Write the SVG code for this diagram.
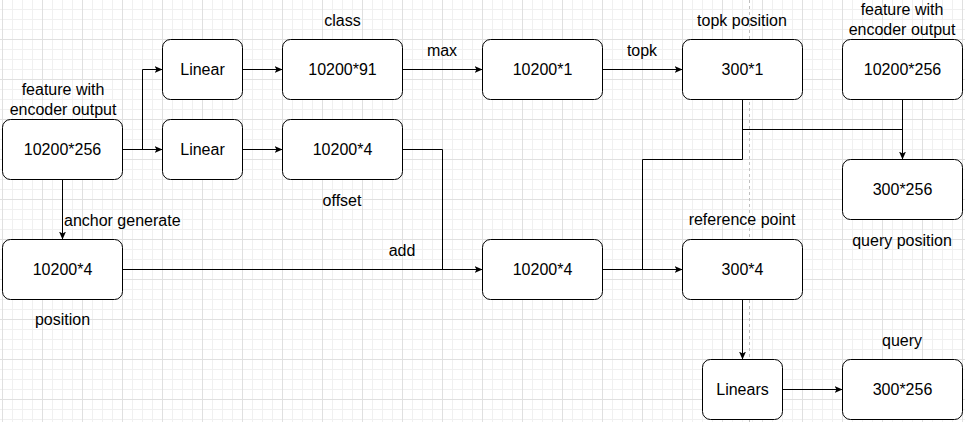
<svg xmlns="http://www.w3.org/2000/svg" width="965" height="422" viewBox="0 0 965 422">
<defs>
<pattern id="grid" patternUnits="userSpaceOnUse" x="2" y="-1" width="40" height="40">
<path d="M10.5,0V40M20.5,0V40M30.5,0V40M0,10.5H40M0,20.5H40M0,30.5H40" stroke="#f0f0f0" stroke-width="1" fill="none"/>
<path d="M0.5,0V40M0,0.5H40" stroke="#e0e0e0" stroke-width="1" fill="none"/>
</pattern>
<marker id="arr" viewBox="0 0 8 7" refX="8" refY="3.5" markerWidth="8" markerHeight="7" markerUnits="userSpaceOnUse" orient="auto">
<path d="M0,0 L8,3.5 L0,7 L2,3.5 Z" fill="#000"/>
</marker>
<style>
.box{fill:#fff;stroke:#000;stroke-width:1}
.t{font-family:"Liberation Sans",Arial,sans-serif;font-size:16px;fill:#000;text-anchor:middle;dominant-baseline:central}
.l{font-family:"Liberation Sans",Arial,sans-serif;font-size:16px;fill:#000;text-anchor:middle;dominant-baseline:central}
.e{fill:none;stroke:#000;stroke-width:1}
.ea{fill:none;stroke:#000;stroke-width:1;marker-end:url(#arr)}
</style>
</defs>
<rect width="965" height="422" fill="#fff"/>
<rect width="965" height="422" fill="url(#grid)"/>
<line x1="749.5" y1="0" x2="749.5" y2="422" stroke="#c0c0c0" stroke-width="1" stroke-dasharray="3,3"/>

<g id="connectors">
<path class="ea" d="M122.5,149.5H162.5"/>
<path class="ea" d="M142.5,149.5V69.5H162.5"/>
<path class="ea" d="M242.5,69.5H282.5"/>
<path class="ea" d="M242.5,149.5H282.5"/>
<path class="ea" d="M402.5,69.5H482.5"/>
<path class="ea" d="M602.5,69.5H682.5"/>
<path class="ea" d="M62.5,179.5V239.5"/>
<path class="ea" d="M122.5,269.5H482.5"/>
<path class="e" d="M402.5,149.5H442.5V269.5"/>
<path class="ea" d="M602.5,269.5H682.5"/>
<path class="e" d="M742.5,99.5V159.5H642.5V269.5"/>
<path class="e" d="M742.5,129.5H902.5"/>
<path class="ea" d="M902.5,99.5V159.5"/>
<path class="ea" d="M742.5,299.5V359.5"/>
<path class="ea" d="M782.5,389.5H842.5"/>
<text class="l" x="442" y="50">max</text>
<text class="l" x="642" y="50">topk</text>
<text class="l" x="402" y="250">add</text>
<text class="l" x="64" y="220" style="text-anchor:start">anchor generate</text>
</g>

<g id="feature">
<rect class="box" x="2.5" y="119.5" width="120" height="60" rx="8"/>
<text class="t" x="62.5" y="149.5">10200*256</text>
<text class="l" x="63" y="89.5">feature with</text>
<text class="l" x="63" y="109.5">encoder output</text>
</g>
<g id="linear1">
<rect class="box" x="162.5" y="39.5" width="80" height="60" rx="8"/>
<text class="t" x="202.5" y="69.5">Linear</text>
</g>
<g id="linear2">
<rect class="box" x="162.5" y="119.5" width="80" height="60" rx="8"/>
<text class="t" x="202.5" y="149.5">Linear</text>
</g>
<g id="class">
<rect class="box" x="282.5" y="39.5" width="120" height="60" rx="8"/>
<text class="t" x="342.5" y="69.5">10200*91</text>
<text class="l" x="342.5" y="20">class</text>
</g>
<g id="offset">
<rect class="box" x="282.5" y="119.5" width="120" height="60" rx="8"/>
<text class="t" x="342.5" y="149.5">10200*4</text>
<text class="l" x="342" y="200">offset</text>
</g>
<g id="max">
<rect class="box" x="482.5" y="39.5" width="120" height="60" rx="8"/>
<text class="t" x="542.5" y="69.5">10200*1</text>
</g>
<g id="topk">
<rect class="box" x="682.5" y="39.5" width="120" height="60" rx="8"/>
<text class="t" x="742.5" y="69.5">300*1</text>
<text class="l" x="742" y="20">topk position</text>
</g>
<g id="feature2">
<rect class="box" x="842.5" y="39.5" width="120" height="60" rx="8"/>
<text class="t" x="902.5" y="69.5">10200*256</text>
<text class="l" x="902" y="9.5">feature with</text>
<text class="l" x="902" y="29.5">encoder output</text>
</g>
<g id="querypos">
<rect class="box" x="842.5" y="159.5" width="120" height="60" rx="8"/>
<text class="t" x="902.5" y="189.5">300*256</text>
<text class="l" x="902" y="240">query position</text>
</g>
<g id="position">
<rect class="box" x="2.5" y="239.5" width="120" height="60" rx="8"/>
<text class="t" x="62.5" y="269.5">10200*4</text>
<text class="l" x="62.5" y="319.5">position</text>
</g>
<g id="add">
<rect class="box" x="482.5" y="239.5" width="120" height="60" rx="8"/>
<text class="t" x="542.5" y="269.5">10200*4</text>
</g>
<g id="refpoint">
<rect class="box" x="682.5" y="239.5" width="120" height="60" rx="8"/>
<text class="t" x="742.5" y="269.5">300*4</text>
<text class="l" x="742" y="219.5">reference point</text>
</g>
<g id="linears">
<rect class="box" x="702.5" y="359.5" width="80" height="60" rx="8"/>
<text class="t" x="742.5" y="389.5">Linears</text>
</g>
<g id="query">
<rect class="box" x="842.5" y="359.5" width="120" height="60" rx="8"/>
<text class="t" x="902.5" y="389.5">300*256</text>
<text class="l" x="902" y="340">query</text>
</g>
</svg>
